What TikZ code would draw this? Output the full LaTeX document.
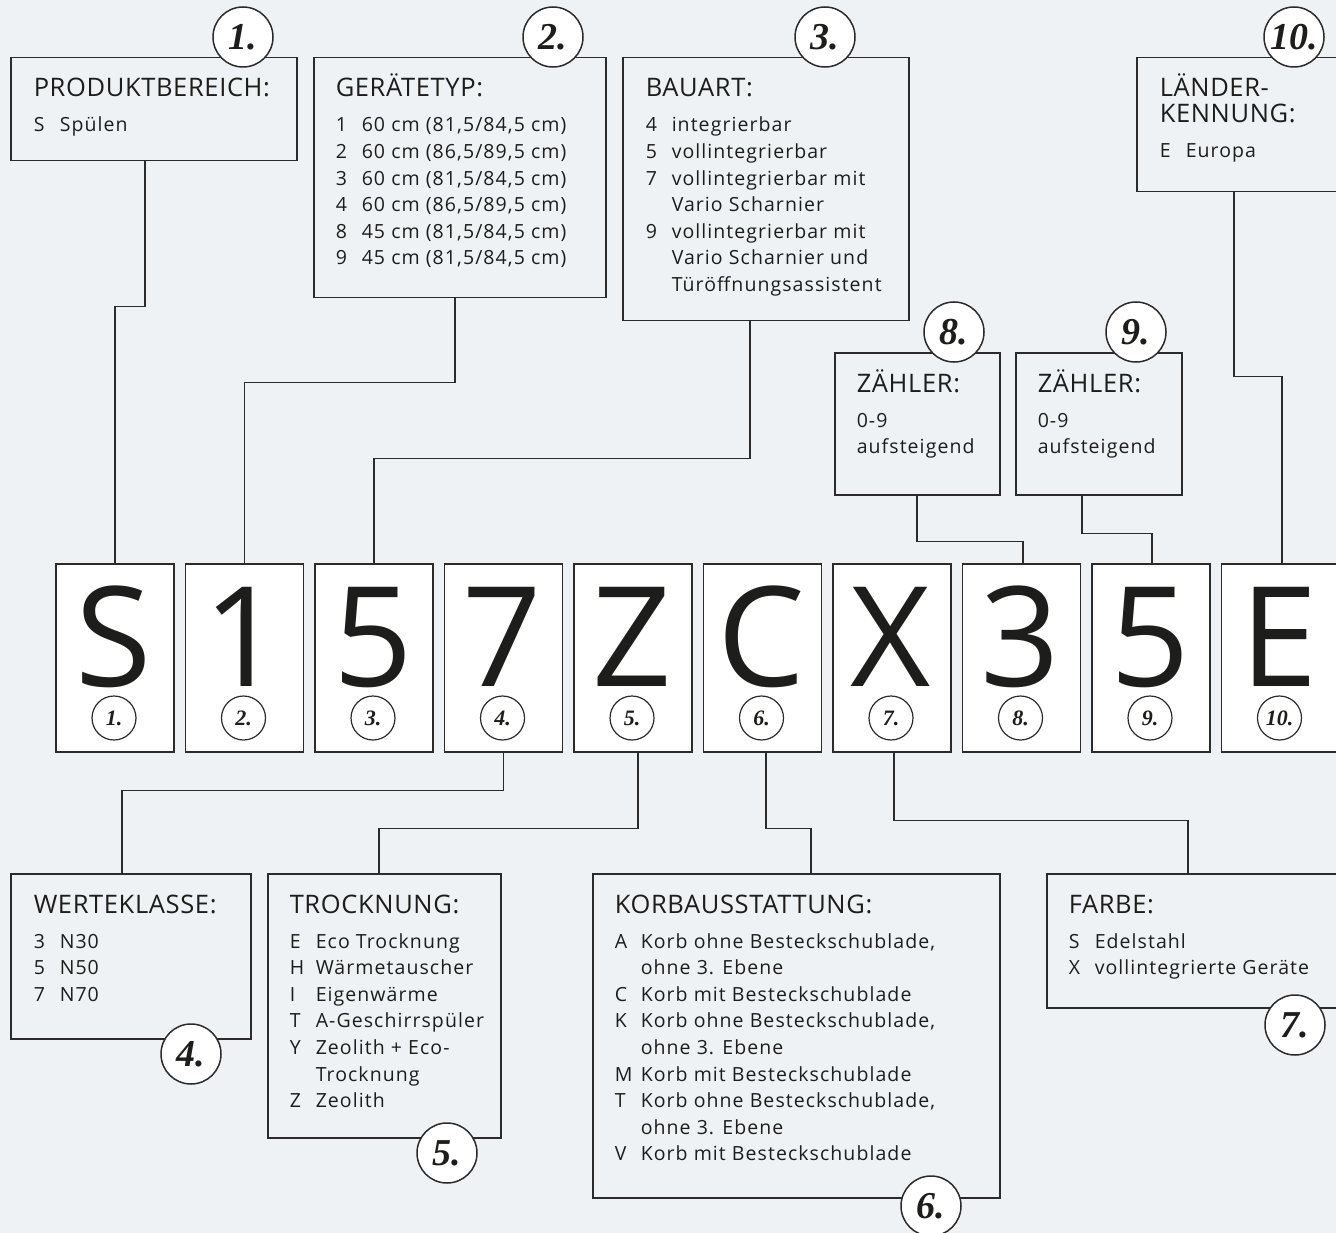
\documentclass[tikz,border=0pt]{standalone}
\usepackage{fontspec}
\usepackage{array}
\setmainfont{Open Sans}
\newfontfamily\numfont{Liberation Serif}
\newfontfamily\bodyfont[LetterSpace=5.5]{Open Sans}
\newfontfamily\headfont[LetterSpace=2.5]{Open Sans}
\definecolor{bg}{HTML}{EEF2F5}
\definecolor{ink}{HTML}{1D1D1B}
\definecolor{ln}{HTML}{2B2B2B}
\newcommand\lst[1]{\begin{tabular}[t]{@{}w{l}{26pt}@{}l@{}}#1\end{tabular}}
\begin{document}
\begin{tikzpicture}[x=1pt,y=-1pt,line width=1.5pt,
  infobox/.style={draw=ln,line width=1.5pt,anchor=north west,inner sep=0,rectangle},
  lbox/.style={draw=ln,line width=1.5pt,fill=white,anchor=north west,inner sep=0,
    minimum width=118pt,minimum height=188pt},
  hd/.style={anchor=base west,inner sep=0,text=ink,font=\headfont\fontsize{25.5}{26}\selectfont},
  ls/.style={anchor=base west,inner sep=0,text=ink,font=\bodyfont\fontsize{19.5}{26.6}\selectfont},
  bigletter/.style={anchor=base,inner sep=0,text=ink,text height=99pt,text depth=0pt,
    font=\fontsize{139}{139}\selectfont},
  bignum/.style={circle,draw=ln,line width=1.5pt,fill=white,minimum size=60pt,inner sep=0,
    text=ink,font=\numfont\bfseries\itshape\fontsize{38}{38}\selectfont},
  smallnum/.style={circle,draw=ln,line width=1.2pt,fill=white,minimum size=44pt,inner sep=0,
    text=ink,font=\numfont\bfseries\itshape\fontsize{22}{22}\selectfont},
  conn/.style={draw=ln,line width=1.5pt}]
\useasboundingbox (0,0) rectangle (1336,1233);
\clip (0,0) rectangle (1336,1233);
\fill[bg] (0,0) rectangle (1336,1233);

% ---------- top boxes ----------
\node[infobox,minimum width=286pt,minimum height=103pt] (b1) at (10,57) {};
\node[infobox,minimum width=292pt,minimum height=240pt] (b2) at (313,57) {};
\node[infobox,minimum width=286pt,minimum height=263pt] (b3) at (622,57) {};
\node[infobox,minimum width=165pt,minimum height=142pt] (b8) at (834,352) {};
\node[infobox,minimum width=166pt,minimum height=142pt] (b9) at (1015,352) {};
\node[infobox,minimum width=230pt,minimum height=134pt] (b10) at (1136,57) {};

\node[hd] (h1) at (33,97) {PRODUKTBEREICH:};
\node[ls] (l1) at (33,132) {\lst{S & Spülen}};

\node[hd] (h2) at (335,97) {GERÄTETYP:};
\node[ls] (l2) at (335,132) {\lst{1 & 60 cm (81,5/84,5 cm)\\ 2 & 60 cm (86,5/89,5 cm)\\
  3 & 60 cm (81,5/84,5 cm)\\ 4 & 60 cm (86,5/89,5 cm)\\ 8 & 45 cm (81,5/84,5 cm)\\
  9 & 45 cm (81,5/84,5 cm)}};

\node[hd] (h3) at (645,97) {BAUART:};
\node[ls] (l3) at (645,132) {\lst{4 & integrierbar\\ 5 & vollintegrierbar\\
  7 & vollintegrierbar mit\\ & Vario Scharnier\\ 9 & vollintegrierbar mit\\
  & Vario Scharnier und\\ & Türöffnungsassistent}};

\node[hd] (h8) at (856,392) {ZÄHLER:};
\node[ls] (l8) at (856,427) {\lst{0-9\\aufsteigend}};
\node[hd] (h9) at (1037,392) {ZÄHLER:};
\node[ls] (l9) at (1037,427) {\lst{0-9\\aufsteigend}};

\node[hd] (h10) at (1159,97) {LÄNDER-};
\node[hd] (h10b) at (1159,123) {KENNUNG:};
\node[ls] (l10) at (1159,158) {\lst{E & Europa}};

% ---------- bottom boxes ----------
\node[infobox,minimum width=240pt,minimum height=165pt] (b4) at (10,873) {};
\node[infobox,minimum width=233pt,minimum height=264pt] (b5) at (267,873) {};
\node[infobox,minimum width=407pt,minimum height=324pt] (b6) at (592,873) {};
\node[infobox,minimum width=320pt,minimum height=134pt] (b7) at (1046,873) {};

\node[hd] (h4) at (33,913) {WERTEKLASSE:};
\node[ls] (l4) at (33,948) {\lst{3 & N30\\ 5 & N50\\ 7 & N70}};

\node[hd] (h5) at (289,913) {TROCKNUNG:};
\node[ls] (l5) at (289,948) {\lst{E & Eco Trocknung\\ H & Wärmetauscher\\ I & Eigenwärme\\
  T & A-Geschirrspüler\\ Y & Zeolith + Eco-\\ & Trocknung\\ Z & Zeolith}};

\node[hd] (h6) at (614,913) {KORBAUSSTATTUNG:};
\node[ls] (l6) at (614,948) {\lst{A & Korb ohne Besteckschublade,\\ & ohne 3. Ebene\\
  C & Korb mit Besteckschublade\\ K & Korb ohne Besteckschublade,\\ & ohne 3. Ebene\\
  M & Korb mit Besteckschublade\\ T & Korb ohne Besteckschublade,\\ & ohne 3. Ebene\\
  V & Korb mit Besteckschublade}};

\node[hd] (h7) at (1068,913) {FARBE:};
\node[ls] (l7) at (1068,948) {\lst{S & Edelstahl\\ X & vollintegrierte Geräte}};

% ---------- letter boxes ----------
\foreach \i/\c in {1/S,2/1,3/5,4/7,5/Z,6/C,7/X,8/3,9/5,10/E}{
  \node[lbox] (L\i) at ({55+129.5*(\i-1)},563) {};
  \node[bigletter] (T\i) at ({114+129.5*(\i-1)},686) {\c};
  \node[smallnum] (N\i) at ({114+129.5*(\i-1)},718) {\i.};
}

% ---------- connectors ----------
\draw[conn] ([xshift=135pt]b1.south west) -- ++(0,145) -| (L1.north);
\draw[conn] ([xshift=142pt]b2.south west) -- ++(0,84) -| (L2.north);
\draw[conn] ([xshift=128pt]b3.south west) -- ++(0,137) -| (L3.north);
\draw[conn] ([xshift=83pt]b8.south west) -- ++(0,46) -| ([xshift=1.5pt]L8.north);
\draw[conn] ([xshift=67pt]b9.south west) -- ++(0,38) -| ([xshift=1pt]L9.north);
\draw[conn] ([xshift=98pt]b10.south west) -- ++(0,184) -| ([xshift=1.5pt]L10.north);

\draw[conn] (L4.south) -- ++(0,38) -| ([xshift=112pt]b4.north west);
\draw[conn] ([xshift=5pt]L5.south) -- ++(0,76) -| ([xshift=112pt]b5.north west);
\draw[conn] ([xshift=3.5pt]L6.south) -- ++(0,76) -| ([xshift=219pt]b6.north west);
\draw[conn] ([xshift=2pt]L7.south) -- ++(0,68) -| ([xshift=142pt]b7.north west);

% ---------- number circles ----------
\node[bignum] (c1) at (243,37) {1.};
\node[bignum] (c2) at (553,37) {2.};
\node[bignum] (c3) at (825,37) {3.};
\node[bignum] (c8) at (954,332) {8.};
\node[bignum] (c9) at (1136,332) {9.};
\node[bignum] (c10) at (1294,37) {10.};
\node[bignum] (c4) at (191,1054) {4.};
\node[bignum] (c5) at (447,1153) {5.};
\node[bignum] (c6) at (931,1206) {6.};
\node[bignum] (c7) at (1295,1025) {7.};
\end{tikzpicture}
\end{document}
